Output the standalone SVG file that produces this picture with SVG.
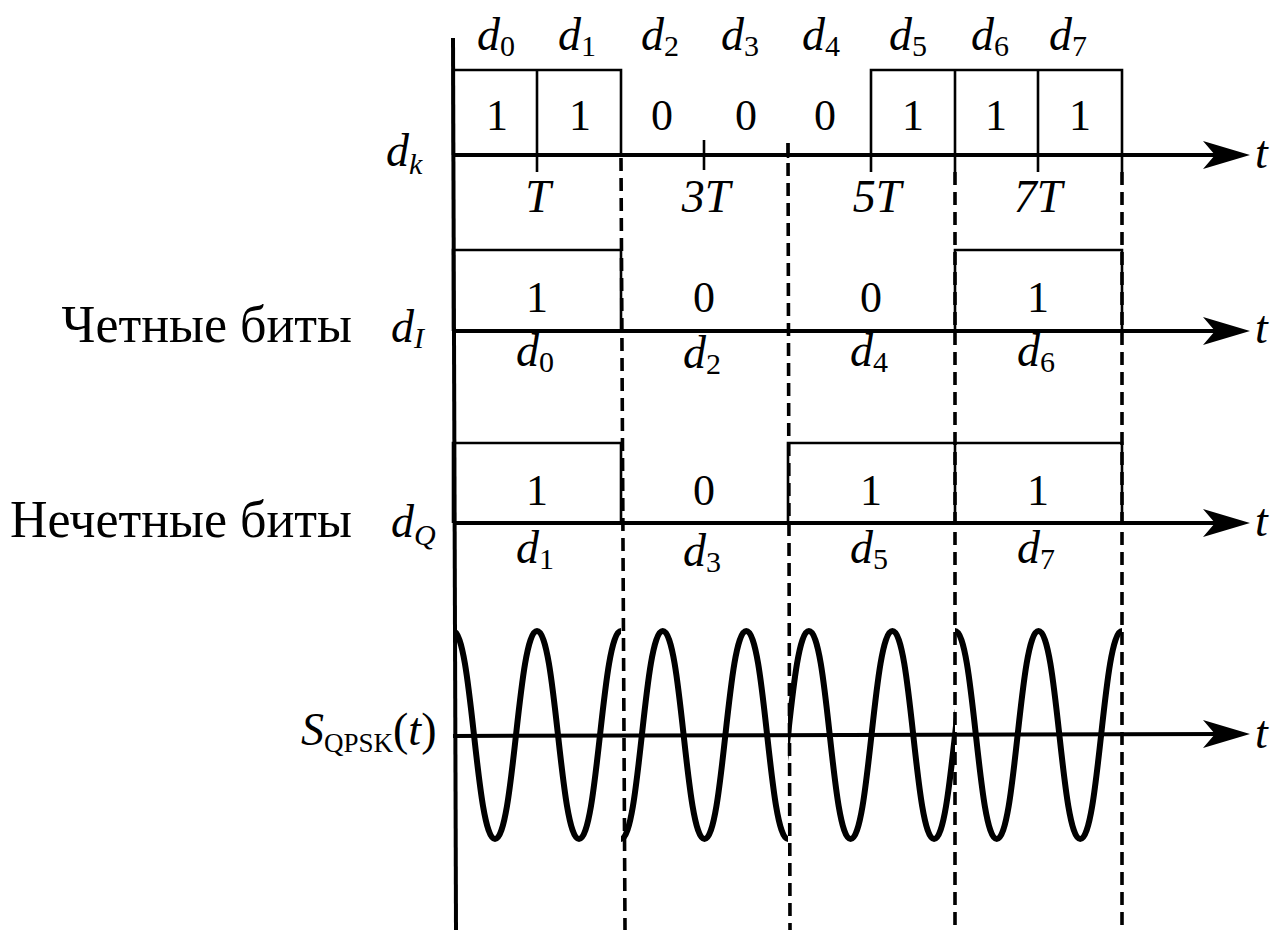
<svg xmlns="http://www.w3.org/2000/svg" xmlns:xlink="http://www.w3.org/1999/xlink" width="1272" height="930" viewBox="0 0 1272 930">
<style>
text{fill:#000}
.it{font-style:italic;font-size:46px}
.num{font-size:44px;text-anchor:middle}
.sub{font-size:30px;font-style:normal}
.subi{font-size:30px;font-style:italic}
.ru{font-size:52px}
.axis{stroke:#000;stroke-width:4;fill:none}
.box{stroke:#000;stroke-width:2.6;fill:none}
.dash{stroke:#000;stroke-width:3.6;stroke-dasharray:13 7;fill:none}
.wave{stroke:#000;stroke-width:6;fill:none;stroke-linejoin:round}
</style>
<defs>
<path id="ah" d="M0,0 L-47,-14 L-35,0 L-47,14 Z" fill="#000"/>
<clipPath id="c1"><rect x="453" y="600" width="168" height="280"/></clipPath>
<clipPath id="c2"><rect x="621" y="600" width="167" height="280"/></clipPath>
<clipPath id="c3"><rect x="788" y="600" width="167" height="280"/></clipPath>
<clipPath id="c4"><rect x="955" y="600" width="167" height="280"/></clipPath>
</defs>
<rect width="1272" height="930" fill="#fff"/>

<g id="axes">
<line class="axis" x1="453" y1="38" x2="456" y2="930"/>
<line class="axis" x1="453" y1="155" x2="1225" y2="155"/><use xlink:href="#ah" x="1250" y="155"/>
<line class="axis" x1="453" y1="331" x2="1225" y2="331"/><use xlink:href="#ah" x="1250" y="331"/>
<line class="axis" x1="453" y1="523" x2="1225" y2="523"/><use xlink:href="#ah" x="1250" y="523"/>
<line class="axis" x1="453" y1="736" x2="1225" y2="734"/><use xlink:href="#ah" x="1250" y="734"/>
<text class="it" font-family="Liberation Serif" x="1255" y="168">t</text>
<text class="it" font-family="Liberation Serif" x="1255" y="343">t</text>
<text class="it" font-family="Liberation Serif" x="1255" y="536">t</text>
<text class="it" font-family="Liberation Serif" x="1255" y="748">t</text>
</g>

<g id="dashes">
<line class="dash" x1="621" y1="158" x2="625" y2="930"/>
<line class="dash" x1="788" y1="143" x2="790" y2="930"/>
<line class="dash" x1="955" y1="172" x2="955" y2="930"/>
<line class="dash" x1="1122" y1="172" x2="1122" y2="930"/>
</g>

<g id="row-dk">
<path class="box" d="M453,155 V70 H621 V155"/>
<line class="box" x1="537" y1="70" x2="537" y2="172"/>
<line class="box" x1="704" y1="140" x2="704" y2="170"/>
<line class="box" x1="788" y1="143" x2="788" y2="158"/>
<path class="box" d="M871,172 V70 H1122 V172"/>
<line class="box" x1="955" y1="70" x2="955" y2="172"/>
<line class="box" x1="1038" y1="70" x2="1038" y2="172"/>
<text class="it" font-family="Liberation Serif" x="477" y="50">d<tspan class="sub" dy="6">0</tspan></text>
<text class="it" font-family="Liberation Serif" x="558" y="50">d<tspan class="sub" dy="6">1</tspan></text>
<text class="it" font-family="Liberation Serif" x="641" y="50">d<tspan class="sub" dy="6">2</tspan></text>
<text class="it" font-family="Liberation Serif" x="721" y="50">d<tspan class="sub" dy="6">3</tspan></text>
<text class="it" font-family="Liberation Serif" x="802" y="50">d<tspan class="sub" dy="6">4</tspan></text>
<text class="it" font-family="Liberation Serif" x="889" y="50">d<tspan class="sub" dy="6">5</tspan></text>
<text class="it" font-family="Liberation Serif" x="971" y="50">d<tspan class="sub" dy="6">6</tspan></text>
<text class="it" font-family="Liberation Serif" x="1049" y="50">d<tspan class="sub" dy="6">7</tspan></text>
<text class="num" font-family="Liberation Serif" x="497" y="130">1</text>
<text class="num" font-family="Liberation Serif" x="580" y="130">1</text>
<text class="num" font-family="Liberation Serif" x="662" y="130">0</text>
<text class="num" font-family="Liberation Serif" x="746" y="130">0</text>
<text class="num" font-family="Liberation Serif" x="825" y="130">0</text>
<text class="num" font-family="Liberation Serif" x="913" y="130">1</text>
<text class="num" font-family="Liberation Serif" x="996" y="130">1</text>
<text class="num" font-family="Liberation Serif" x="1080" y="130">1</text>
<text class="it" font-family="Liberation Serif" x="538" y="212" text-anchor="middle">T</text>
<text class="it" font-family="Liberation Serif" x="706" y="212" text-anchor="middle">3T</text>
<text class="it" font-family="Liberation Serif" x="877" y="212" text-anchor="middle">5T</text>
<text class="it" font-family="Liberation Serif" x="1038" y="212" text-anchor="middle">7T</text>
<text class="it" font-family="Liberation Serif" x="386" y="166">d<tspan class="subi" dy="8">k</tspan></text>
</g>

<g id="row-dI">
<path class="box" d="M453,331 V250 H621 V331"/>
<path class="box" d="M955,331 V250 H1122 V331"/>
<text class="num" font-family="Liberation Serif" x="537" y="312">1</text>
<text class="num" font-family="Liberation Serif" x="704" y="312">0</text>
<text class="num" font-family="Liberation Serif" x="871" y="312">0</text>
<text class="num" font-family="Liberation Serif" x="1038" y="312">1</text>
<text class="it" font-family="Liberation Serif" x="516" y="366">d<tspan class="sub" dy="6">0</tspan></text>
<text class="it" font-family="Liberation Serif" x="683" y="368">d<tspan class="sub" dy="6">2</tspan></text>
<text class="it" font-family="Liberation Serif" x="850" y="366">d<tspan class="sub" dy="6">4</tspan></text>
<text class="it" font-family="Liberation Serif" x="1017" y="366">d<tspan class="sub" dy="6">6</tspan></text>
<text class="ru" font-family="Liberation Serif" x="352" y="342" text-anchor="end">Четные биты</text>
<text class="it" font-family="Liberation Serif" x="391" y="342">d<tspan class="subi" dy="6">I</tspan></text>
</g>

<g id="row-dQ">
<path class="box" d="M453,523 V443 H621 V523"/>
<path class="box" d="M788,523 V443 H1122 V523"/>
<line class="box" x1="955" y1="443" x2="955" y2="523"/>
<text class="num" font-family="Liberation Serif" x="537" y="505">1</text>
<text class="num" font-family="Liberation Serif" x="704" y="505">0</text>
<text class="num" font-family="Liberation Serif" x="871" y="505">1</text>
<text class="num" font-family="Liberation Serif" x="1038" y="505">1</text>
<text class="it" font-family="Liberation Serif" x="516" y="563">d<tspan class="sub" dy="6">1</tspan></text>
<text class="it" font-family="Liberation Serif" x="683" y="566">d<tspan class="sub" dy="6">3</tspan></text>
<text class="it" font-family="Liberation Serif" x="850" y="563">d<tspan class="sub" dy="6">5</tspan></text>
<text class="it" font-family="Liberation Serif" x="1017" y="563">d<tspan class="sub" dy="6">7</tspan></text>
<text class="ru" font-family="Liberation Serif" x="352" y="537" text-anchor="end">Нечетные биты</text>
<text class="it" font-family="Liberation Serif" x="391" y="537">d<tspan class="subi" dy="8">Q</tspan></text>
</g>

<g id="row-s">
<text class="it" font-family="Liberation Serif" x="301" y="745">S<tspan style="font-style:normal;font-size:27px" dy="7">QPSK</tspan><tspan style="font-style:normal" dy="-7">(</tspan><tspan>t</tspan><tspan style="font-style:normal">)</tspan></text>
<path class="wave" clip-path="url(#c1)" d="M411,839 C430,839 434,631 453,631 C472,631 476,839 495,839 C514,839 518,631 537,631 C556,631 560,839 579,839 C598,839 602,631 621,631 C640,631 644,839 663,839"/>
<path class="wave" clip-path="url(#c2)" d="M579.25,631 C598.25,631 602,839 621,839 C640,839 643.75,631 662.75,631 C681.75,631 685.5,839 704.5,839 C723.5,839 727.25,631 746.25,631 C765.25,631 769,839 788,839 C807,839 810.75,631 829.75,631"/>
<path class="wave" clip-path="url(#c3)" d="M767.1,839 C786.1,839 789.9,631 808.9,631 C827.9,631 831.6,839 850.6,839 C869.6,839 873.4,631 892.4,631 C911.4,631 915.1,839 934.1,839 C953.1,839 956.9,631 975.9,631"/>
<path class="wave" clip-path="url(#c4)" d="M913.25,839 C932.25,839 936,631 955,631 C974,631 977.75,839 996.75,839 C1015.75,839 1019.5,631 1038.5,631 C1057.5,631 1061.25,839 1080.25,839 C1099.25,839 1103,631 1122,631 C1141,631 1144.75,839 1163.75,839"/>
</g>
</svg>
